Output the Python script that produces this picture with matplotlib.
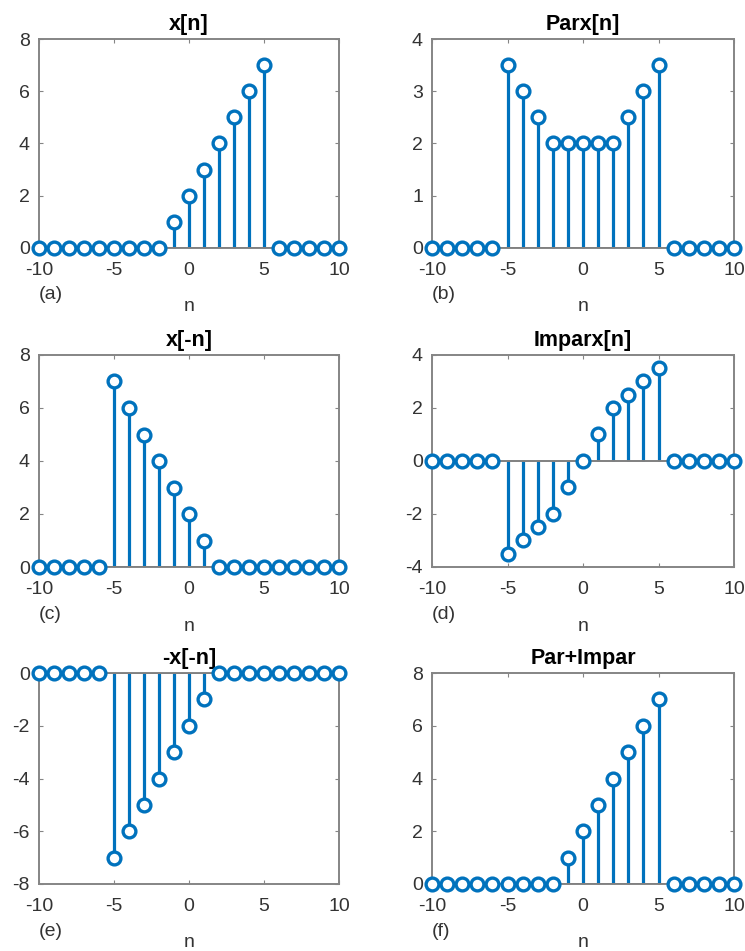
import matplotlib
matplotlib.use("Agg")
import matplotlib.pyplot as plt
import numpy as np

plt.rcParams['font.family'] = ['Liberation Sans', 'DejaVu Sans']
plt.rcParams['axes.unicode_minus'] = False

n = list(range(-10, 11))
x_n = [0, 0, 0, 0, 0, 0, 0, 0, 0, 1, 2, 3, 4, 5, 6, 7, 0, 0, 0, 0, 0]
par_x = [0, 0, 0, 0, 0, 3.5, 3, 2.5, 2, 2, 2, 2, 2, 2.5, 3, 3.5, 0, 0, 0, 0, 0]
x_neg = [0, 0, 0, 0, 0, 7, 6, 5, 4, 3, 2, 1, 0, 0, 0, 0, 0, 0, 0, 0, 0]
impar_x = [0, 0, 0, 0, 0, -3.5, -3, -2.5, -2, -1, 0, 1, 2, 2.5, 3, 3.5, 0, 0, 0, 0, 0]
neg_x_neg = [0, 0, 0, 0, 0, -7, -6, -5, -4, -3, -2, -1, 0, 0, 0, 0, 0, 0, 0, 0, 0]
par_impar = [0, 0, 0, 0, 0, 0, 0, 0, 0, 1, 2, 3, 4, 5, 6, 7, 0, 0, 0, 0, 0]

titles = ['x[n]', 'Parx[n]', 'x[-n]', 'Imparx[n]', '-x[-n]', 'Par+Impar']
letters = ['(a)', '(b)', '(c)', '(d)', '(e)', '(f)']
series = [x_n, par_x, x_neg, impar_x, neg_x_neg, par_impar]
ylims = [(0, 8), (0, 4), (0, 8), (-4, 4), (-8, 0), (0, 8)]
yticks = [[0, 2, 4, 6, 8], [0, 1, 2, 3, 4], [0, 2, 4, 6, 8],
          [-4, -2, 0, 2, 4], [-8, -6, -4, -2, 0], [0, 2, 4, 6, 8]]
xticks = [-10, -5, 0, 5, 10]

W, H = 745, 951
fig = plt.figure(figsize=(W / 100, H / 100), dpi=100)

# pixel boxes: left, right, top, bottom
boxes = [(39, 339, 39, 248), (432, 734, 39, 248),
         (39, 339, 355, 567), (432, 734, 355, 567),
         (39, 339, 673, 884), (432, 734, 673, 884)]

blue = '#0072BD'
axcol = '#858585'
txtcol = '#333333'

for i in range(6):
    l, r, t, b = boxes[i]
    ax = fig.add_axes([l / W, 1 - b / H, (r - l) / W, (b - t) / H])
    ml, sl, bl = ax.stem(n, series[i], linefmt='-', markerfmt='o', basefmt='-')
    plt.setp(sl, color=blue, linewidth=2.3)
    plt.setp(ml, markerfacecolor='white', markeredgecolor=blue,
             markersize=9.2, markeredgewidth=2.4, clip_on=False, zorder=4)
    plt.setp(bl, color='#808080', linewidth=1.4, zorder=3)
    sl.set_clip_on(False)
    ax.set_xlim(-10, 10)
    ax.set_ylim(*ylims[i])
    ax.set_xticks(xticks)
    ax.set_yticks(yticks[i])
    ax.tick_params(direction='in', top=True, right=True, length=3,
                   width=0.8, color=axcol, labelsize=14, labelcolor=txtcol)
    ax.tick_params(axis='x', pad=10)
    ax.tick_params(axis='y', pad=6.5)
    for s in ax.spines.values():
        s.set_color(axcol)
        s.set_linewidth(1.4)
    ax.set_title(titles[i], fontsize=15.5, fontweight='bold', color='black', pad=6.5)
    ax.set_xlabel('n', fontsize=14, color=txtcol)
    ax.xaxis.set_label_coords(0.5, -0.30)
    ax.xaxis.label.set_verticalalignment('baseline')
    ax.text(0.0, -0.245, letters[i], transform=ax.transAxes, ha='left',
            va='baseline', fontsize=14, color=txtcol)

fig.savefig('out.png', dpi=100, facecolor='white')
